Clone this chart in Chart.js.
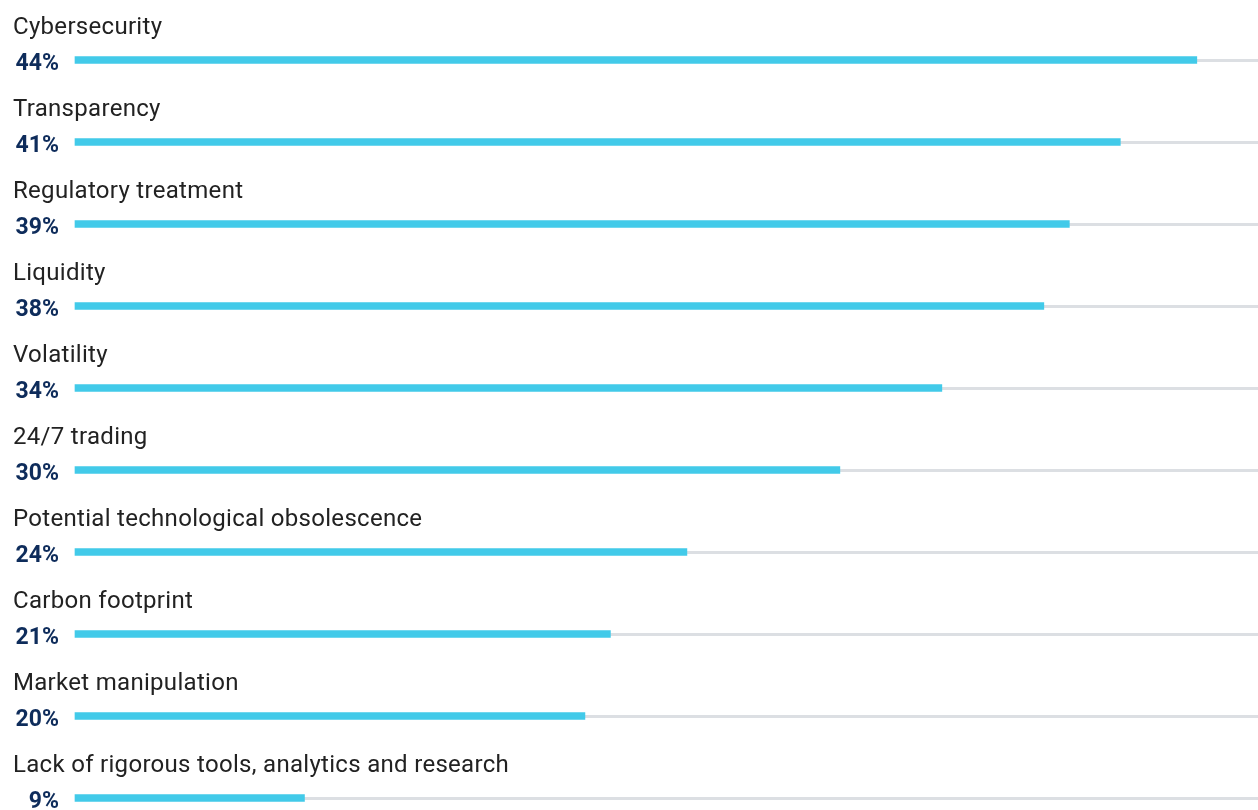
<!DOCTYPE html>
<html>
<head>
<meta charset="utf-8">
<script src="https://cdn.jsdelivr.net/npm/chart.js@4/dist/chart.umd.min.js"></script>
<style>
  html, body { margin: 0; padding: 0; background: #ffffff; }
  #wrap { width: 1258px; height: 810px; position: relative; }
</style>
</head>
<body>
<div id="wrap"><canvas id="riskChart"></canvas></div>
<script>
const categories = [
  'Cybersecurity',
  'Transparency',
  'Regulatory treatment',
  'Liquidity',
  'Volatility',
  '24/7 trading',
  'Potential technological obsolescence',
  'Carbon footprint',
  'Market manipulation',
  'Lack of rigorous tools, analytics and research',
];
const shares = [44, 41, 39, 38, 34, 30, 24, 21, 20, 9];
const axisMax = 46.4;

// category name above each bar, percentage on the left
const rowLabels = {
  id: 'rowLabels',
  afterDatasetsDraw(chart) {
    const { ctx, scales } = chart;
    ctx.save();
    categories.forEach((name, i) => {
      const y = scales.y.getPixelForValue(i);
      ctx.fillStyle = '#222222';
      ctx.font = '24px Roboto';
      ctx.letterSpacing = '0.3px';
      ctx.textAlign = 'left';
      ctx.textBaseline = 'alphabetic';
      ctx.fillText(name, 13, y - 26);

      ctx.fillStyle = '#0e2c5b';
      ctx.font = 'bold 23px Roboto';
      ctx.letterSpacing = '0px';
      ctx.textAlign = 'right';
      ctx.textBaseline = 'alphabetic';
      ctx.fillText(shares[i] + '%', 59, y + 10);
    });
    ctx.restore();
  },
};

const ctx = document.getElementById('riskChart').getContext('2d');
new Chart(ctx, {
  type: 'bar',
  data: {
    labels: categories,
    datasets: [
      {
        data: shares,
        backgroundColor: '#42cae9',
        borderWidth: 0,
        barThickness: 7,
        clip: false,
      },
    ],
  },
  options: {
    indexAxis: 'y',
    responsive: true,
    maintainAspectRatio: false,
    animation: false,
    layout: {
      padding: { left: 75, right: 0, top: 60, bottom: 12 },
    },
    scales: {
      x: {
        display: false,
        min: 0,
        max: axisMax,
      },
      y: {
        offset: false,
        ticks: { display: false },
        border: { display: false },
        grid: {
          offset: false,
          color: '#dcdfe3',
          lineWidth: 3,
          drawTicks: false,
        },
        afterFit(scale) {
          scale.width = 0;
        },
      },
    },
    plugins: {
      legend: { display: false },
      tooltip: { enabled: false },
    },
  },
  plugins: [rowLabels],
});
</script>
</body>
</html>
